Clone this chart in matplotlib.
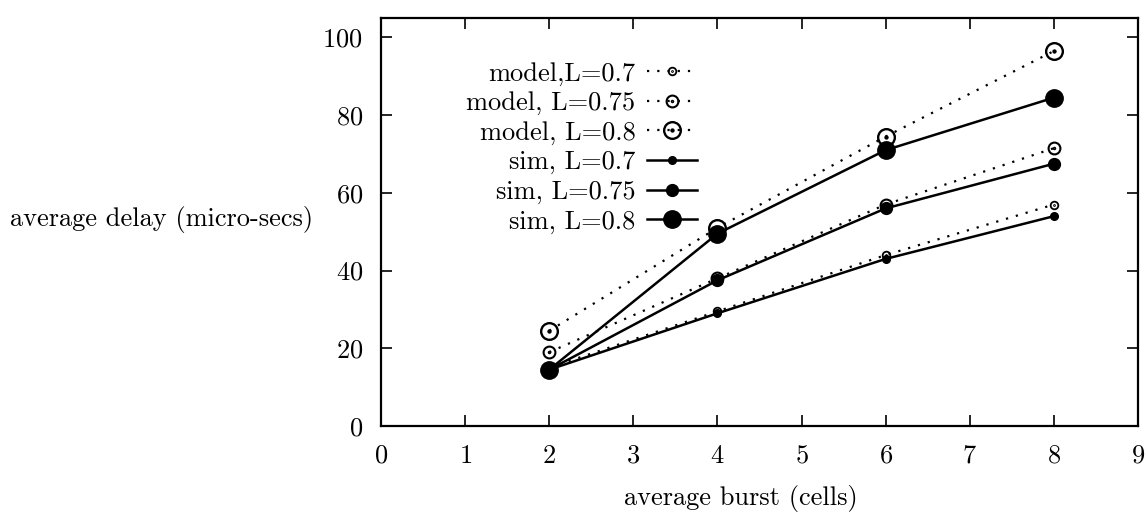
import numpy as np
import matplotlib
matplotlib.use("Agg")
import matplotlib.pyplot as plt
from matplotlib.path import Path

plt.rcParams['font.family'] = ['cmr10', 'DejaVu Serif']
plt.rcParams['axes.formatter.use_mathtext'] = True

# data
burst = [2, 4, 6, 8]
model_07 = [15.0, 29.5, 44.0, 57.0]
model_075 = [19.0, 38.0, 57.0, 71.5]
model_08 = [24.5, 51.0, 74.5, 96.5]
sim_07 = [14.5, 29.0, 43.0, 54.0]
sim_075 = [14.5, 37.5, 56.0, 67.5]
sim_08 = [14.5, 49.5, 71.0, 84.5]

# open circle with a dot in the middle (gnuplot style point)
odot = Path.make_compound_path(Path.circle((0, 0), 1.0), Path.circle((0, 0), 0.12))

fig = plt.figure(figsize=(11.47, 5.25), dpi=100)
ax = fig.add_axes([381 / 1147, 1 - 426 / 525, 757 / 1147, 408 / 525])

dots = (0, (1, 3.6))
ax.plot(burst, model_07, color='black', linestyle=dots, linewidth=1.6,
        marker=odot, markersize=5.5, markerfacecolor='none', markeredgewidth=1.3,
        label='model,L=0.7')
ax.plot(burst, model_075, color='black', linestyle=dots, linewidth=1.6,
        marker=odot, markersize=8.5, markerfacecolor='none', markeredgewidth=1.5,
        label='model, L=0.75')
ax.plot(burst, model_08, color='black', linestyle=dots, linewidth=1.6,
        marker=odot, markersize=12, markerfacecolor='none', markeredgewidth=1.7,
        label='model, L=0.8')
ax.plot(burst, sim_07, color='black', linestyle='-', linewidth=1.8,
        marker='o', markersize=5.5, label='sim, L=0.7')
ax.plot(burst, sim_075, color='black', linestyle='-', linewidth=1.8,
        marker='o', markersize=8.5, label='sim, L=0.75')
ax.plot(burst, sim_08, color='black', linestyle='-', linewidth=1.8,
        marker='o', markersize=12.5, label='sim, L=0.8')

ax.set_xlim(0, 9)
ax.set_ylim(0, 105)
ax.set_xticks(range(0, 10))
ax.set_yticks(range(0, 101, 20))
ax.tick_params(direction='in', length=8, width=1.2, labelsize=19,
               top=True, right=True)
ax.tick_params(axis='x', pad=13)
ax.tick_params(axis='y', pad=13)
for sp in ax.spines.values():
    sp.set_linewidth(1.6)

ax.set_xlabel('average burst (cells)', fontsize=19, va='center')
ax.xaxis.set_label_coords(0.476, -0.178)
ax.set_ylabel('average delay (micro-secs)', fontsize=19, rotation=0,
              ha='right', va='center')
ax.yaxis.set_label_coords(-0.09, 0.505)

# labels first, samples after: rows come out right-aligned like gnuplot
ax.legend(loc='upper right', bbox_to_anchor=(0.418, 0.893),
          frameon=False, markerfirst=False, numpoints=1,
          fontsize=19, handlelength=1.9, handletextpad=0.45,
          labelspacing=0.215, borderpad=0, borderaxespad=0)

fig.savefig('out.png', dpi=100)
